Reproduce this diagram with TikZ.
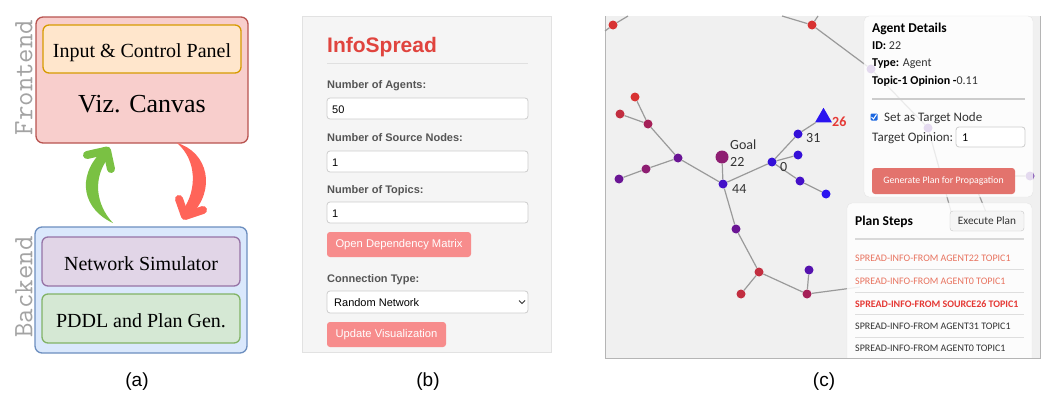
\documentclass[tikz,border=0pt]{standalone}
\usepackage{fontspec}
\usetikzlibrary{shapes.geometric}
\newfontfamily\serifA{Liberation Serif}
\newfontfamily\arialA{Liberation Sans}
\newfontfamily\uiA{Carlito}
\newcommand\myfs[1]{\fontsize{#1}{#1}\selectfont}
\definecolor{frontF}{HTML}{F8CECC}\definecolor{frontD}{HTML}{B85450}
\definecolor{inF}{HTML}{FFE6CC}\definecolor{inD}{HTML}{D79B00}
\definecolor{backF}{HTML}{DAE8FC}\definecolor{backD}{HTML}{6C8EBF}
\definecolor{simF}{HTML}{E1D5E7}\definecolor{simD}{HTML}{9673A6}
\definecolor{pddlF}{HTML}{D5E8D4}\definecolor{pddlD}{HTML}{82B366}
\definecolor{arrG}{HTML}{7AC143}\definecolor{arrR}{HTML}{FF6459}
\definecolor{pbBg}{HTML}{F5F5F5}\definecolor{pbBd}{HTML}{E2E2E2}
\definecolor{titleC}{HTML}{E0443E}\definecolor{labC}{HTML}{555555}
\definecolor{inpB}{HTML}{CCCCCC}\definecolor{btnC}{HTML}{F78C8C}
\definecolor{cvBg}{HTML}{F0F0F0}\definecolor{cvBd}{HTML}{B5B5B5}
\definecolor{edgeC}{HTML}{9A9A9A}\definecolor{genC}{HTML}{E3736D}
\definecolor{stepA}{HTML}{E8735F}\definecolor{stepB}{HTML}{E53935}
\definecolor{txtC}{HTML}{333333}\definecolor{chkC}{HTML}{1A66E0}
\definecolor{cR1}{HTML}{D83232}\definecolor{cR2}{HTML}{C22E40}
\definecolor{cM1}{HTML}{A52058}\definecolor{cM2}{HTML}{8E1E72}
\definecolor{cP1}{HTML}{6A1594}\definecolor{cP2}{HTML}{5512AE}
\definecolor{cB1}{HTML}{4410C8}\definecolor{cB2}{HTML}{3410D8}
\definecolor{cB3}{HTML}{2A14F0}\definecolor{cF}{HTML}{7A48B0}
\begin{document}
\begin{tikzpicture}[x=1pt,y=-1pt,
  box/.style={draw, rounded corners=7, line width=1.3pt, inner sep=0},
  lab/.style={font=\serifA\myfs{20}, anchor=base, inner sep=0},
  sidelab/.style={font=\ttfamily\myfs{28}, text=black!36, rotate=90, inner sep=0},
  subcap/.style={font=\arialA\myfs{19}, anchor=base, inner sep=0},
  blab/.style={font=\arialA\bfseries\myfs{11}, text=labC, anchor=base west, inner sep=0},
  bval/.style={font=\arialA\myfs{11}, text=black, anchor=base west, inner sep=0},
  inp/.style={draw=inpB, fill=white, rounded corners=3, line width=0.8pt, inner sep=0},
  btn/.style={fill=btnC, rounded corners=3, inner sep=0, text=white, font=\arialA\myfs{11.2}, text height=8pt, text depth=2pt},
  nd/.style={circle, minimum size=9, inner sep=0},
  lnk/.style={draw=edgeC, line width=1.2pt},
  nlab/.style={font=\uiA\myfs{14}, text=txtC, anchor=base west, inner sep=0},
  ui/.style={font=\uiA\myfs{12}, text=txtC, anchor=base west, inner sep=0},
  stp/.style={font=\uiA\myfs{10}, anchor=base west, inner sep=0},
  sepl/.style={draw=black!13, line width=0.8pt}
]
\useasboundingbox[fill=white] (0,0) rectangle (1047,415);

% ---------------- panel (a)
\node[box, draw=frontD, fill=frontF, minimum width=212, minimum height=126] (front) at (142,80) {};
\node[box, draw=inD, fill=inF, minimum width=198, minimum height=48, rounded corners=6] (inpanel) at (142,49) {};
\node[lab] (inpanelT) at (142,57.5) {Input \& Control Panel};
\node[lab, font=\serifA\myfs{26}] (vizT) at (142,112) {Viz. Canvas};
\node[box, draw=backD, fill=backF, minimum width=212, minimum height=126] (back) at (141,290) {};
\node[box, draw=simD, fill=simF, minimum width=198, minimum height=49, rounded corners=6] (sim) at (141,261.5) {};
\node[lab] (simT) at (141,270) {Network Simulator};
\node[box, draw=pddlD, fill=pddlF, minimum width=198, minimum height=49, rounded corners=6] (pddl) at (141,318.5) {};
\node[lab] (pddlT) at (141,327) {PDDL and Plan Gen.};
\node[sidelab] (frontL) at (24,77.5) {Frontend};
\node[sidelab] (backL) at (24,287) {Backend};
% curved arrows
\fill[arrG] (113,223) .. controls (84,210) and (75,178) .. (102,151)
  -- (109,157) .. controls (92,178) and (96,205) .. (113,223) -- cycle;
\draw[arrG, line width=8pt, line cap=round, line join=round] (87,155) -- (107,150.5) -- (111,169);
\fill[arrR] (177,143) .. controls (208,152) and (217,190) .. (190,216)
  -- (183,210) .. controls (197,190) and (197,160) .. (177,143) -- cycle;
\draw[arrR, line width=8pt, line cap=round, line join=round] (179,199) -- (185,216) -- (203,210);
\node[subcap] (capa) at (137,386) {(a)};

% ---------------- panel (b)
\node[draw=pbBd, fill=pbBg, line width=0.8pt, minimum width=249, minimum height=336, inner sep=0] (pb) at (426.5,184) {};
\node[font=\arialA\bfseries\myfs{21}, text=titleC, anchor=base west, inner sep=0] (title) at (327,52) {InfoSpread};
\draw[draw=black!12, line width=1pt] (327,63) -- (528,63);
\node[blab] (l1) at (327,88) {Number of Agents:};
\node[inp, minimum width=201, minimum height=21] (i1) at (427.5,108.5) {};
\node[bval] (v1) at (332,113) {50};
\node[blab] (l2) at (327,141) {Number of Source Nodes:};
\node[inp, minimum width=201, minimum height=21] (i2) at (427.5,161.5) {};
\node[bval] (v2) at (332,166) {1};
\node[blab] (l3) at (327,193) {Number of Topics:};
\node[inp, minimum width=201, minimum height=21] (i3) at (427.5,212.5) {};
\node[bval] (v3) at (332,217) {1};
\node[btn, minimum width=144, minimum height=25] (b1) at (399,244.5) {Open Dependency Matrix};
\node[blab] (l4) at (327,282) {Connection Type:};
\node[inp, minimum width=201, minimum height=22] (sel) at (427.5,302) {};
\node[bval] (selT) at (334,306) {Random Network};
\draw[black!80, line width=0.8pt] (519,300.5) -- (522,303.5) -- (525,300.5);
\node[btn, minimum width=119, minimum height=25] (b2) at (386.5,334.5) {Update Visualization};
\node[subcap] (capb) at (428,386) {(b)};

% ---------------- panel (c)
\fill[cvBg] (605,16) rectangle (1040,358);
\draw[cvBd, line width=1pt] (605,16) -- (605,358) -- (1040,358) -- (1040,16);
% network nodes
\node[nd, fill=cR1] (n1) at (613,25) {};
\node[nd, fill=cR1] (n2) at (812,25) {};
\node[nd, fill=cR1] (na) at (635,97) {};
\node[nd, fill=cR2] (nb) at (620,114) {};
\node[nd, fill=cM1] (nc) at (648,124) {};
\node[nd, fill=cP1] (nd) at (678,158) {};
\node[nd, fill=cM2] (ne) at (646,169) {};
\node[nd, fill=cP1] (nf) at (619,179) {};
\node[circle, minimum size=13, inner sep=0, fill=cM2] (goal) at (722,157) {};
\node[nd, fill=cB1] (n44) at (723,184) {};
\node[nd, fill=cB2] (n0) at (772,162) {};
\node[nd, fill=cB2] (n31) at (798,134) {};
\node[regular polygon, regular polygon sides=3, minimum size=19.5, inner sep=0, fill=cB3] (n26) at (823.5,117.5) {};
\node[nd, fill=cB2] (ng) at (798,155) {};
\node[nd, fill=cB1] (nh) at (800,181) {};
\node[nd, fill=cB3] (ni) at (826,194) {};
\node[nd, fill=cP1] (nj) at (736,229) {};
\node[nd, fill=cR2] (nk) at (759,272) {};
\node[nd, fill=cR2] (nl) at (741,294) {};
\node[nd, fill=cP2] (nm) at (809,270) {};
\node[nd, fill=cM1] (nn) at (807,294) {};
\node[nd, fill=cF] (f1) at (871,69) {};
\node[nd, fill=cF] (f2) at (928,128) {};
\node[nd, fill=cF] (f3) at (1030,176) {};
\coordinate (e1) at (605,31);
\coordinate (e2) at (628,16);
\coordinate (e3) at (782,16);
\coordinate (e4) at (818,16);
\coordinate (e5) at (860,287);
\coordinate (e6) at (952,215);
\coordinate (e7) at (990,176);
\coordinate (e8) at (975,185);
\coordinate (e9) at (986,212);
\path[lnk] (e1) -- (n1) (n1) -- (e2) (e3) -- (n2) (n2) -- (e4)
  (na) -- (nc) (nb) -- (nc) (nc) -- (nd) (ne) -- (nd) (nf) -- (ne)
  (nd) -- (n44) (goal) -- (n44) (n44) -- (n0) (n0) -- (n31) (n31) -- (n26)
  (n0) -- (ng) (n0) -- (nh) (nh) -- (ni)
  (n44) -- (nj) (nj) -- (nk) (nk) -- (nl) (nk) -- (nn) (nn) -- (nm) (nn) -- (e5)
  (n2) -- (f1) (f1) -- (f2) (f2) -- (e6) (f3) -- (e7) (e8) -- (e9);
\node[nlab] (goalT) at (730,149) {Goal};
\node[nlab] (t22) at (730,166) {22};
\node[nlab] (t44) at (732,193) {44};
\node[nlab] (t0) at (780,171) {0};
\node[nlab] (t31) at (806,142) {31};
\node[nlab, font=\uiA\bfseries\myfs{14}, text=stepB] (t26) at (832,126) {26};
% agent details panel
\node[draw=black!10, fill=white, fill opacity=0.8, rounded corners=5, minimum width=169, minimum height=181, inner sep=0] (agent) at (948.5,106.5) {};
\node[ui, font=\uiA\bfseries\myfs{13.5}, text=black] (agT) at (872,32) {Agent Details};
\node[ui] (agId) at (872,49) {\textbf{\color{black}ID:} 22};
\node[ui] (agTy) at (872,66) {\textbf{\color{black}Type:} Agent};
\node[ui] (agOp) at (872,84) {\textbf{\color{black}Topic-1 Opinion -}0.11};
\draw[draw=black!20, line width=1.5pt] (872,99) -- (1025,99);
\node[fill=chkC, rounded corners=1, minimum size=7, inner sep=0] (chk) at (874,117) {};
\draw[white, line width=1pt] (871.5,117) -- (873.5,119) -- (876.5,114.5);
\node[ui, font=\uiA\myfs{13}] (setT) at (884,121) {Set as Target Node};
\node[ui, font=\uiA\myfs{13}] (tgT) at (872,141) {Target Opinion:};
\node[inp, minimum width=69, minimum height=20] (tgIn) at (990.5,137) {};
\node[ui, font=\uiA\myfs{12}, text=black] (tgV) at (962,141) {1};
\node[fill=genC, rounded corners=3, minimum width=143, minimum height=26, inner sep=0, text=white, font=\uiA\myfs{9.8}] (gen) at (943.5,181) {Generate Plan for Propagation};
% plan steps panel
\filldraw[draw=black!10, fill=white, fill opacity=0.85, rounded corners=5] (847,358) |- (1032,203) -- (1032,358);
\node[ui, font=\uiA\bfseries\myfs{13.5}, text=black] (plT) at (855,225) {Plan Steps};
\node[draw=black!22, fill=black!4, rounded corners=3, minimum width=74, minimum height=20, inner sep=0, font=\uiA\myfs{11.3}, text=txtC] (exec) at (987,221) {Execute Plan};
\draw[draw=black!15, line width=1.5pt] (855,239) -- (1024,239);
\node[stp, text=stepA] (s1) at (855,261.5) {SPREAD-INFO-FROM AGENT22 TOPIC1};
\draw[sepl] (855,269) -- (1024,269);
\node[stp, text=stepA] (s2) at (855,284.5) {SPREAD-INFO-FROM AGENT0 TOPIC1};
\draw[sepl] (855,292) -- (1024,292);
\node[stp, text=stepB, font=\uiA\bfseries\myfs{10}] (s3) at (855,307.5) {SPREAD-INFO-FROM SOURCE26 TOPIC1};
\draw[sepl] (855,314) -- (1024,314);
\node[stp, text=txtC] (s4) at (855,329.5) {SPREAD-INFO-FROM AGENT31 TOPIC1};
\draw[sepl] (855,337) -- (1024,337);
\node[stp, text=txtC] (s5) at (855,351.5) {SPREAD-INFO-FROM AGENT0 TOPIC1};
\draw[cvBd, line width=1pt] (605,358) -- (1040,358);
\node[subcap] (capc) at (824,386) {(c)};
\end{tikzpicture}
\end{document}
